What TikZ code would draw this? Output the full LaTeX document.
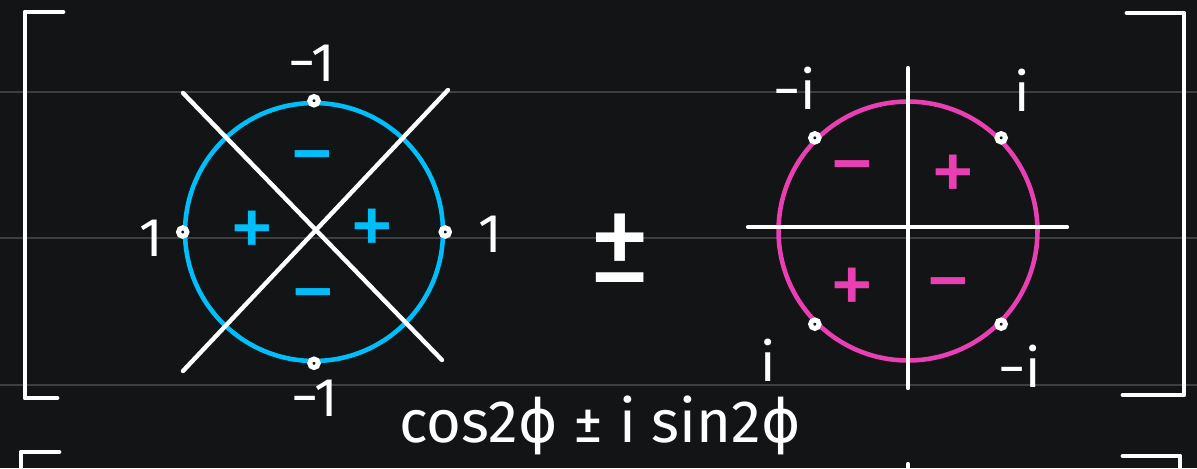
\documentclass[tikz,border=0pt]{standalone}
\usepackage{fontspec}
\setmainfont{Fira Sans}
\newfontfamily\phifont{DejaVu Sans}
\definecolor{board}{RGB}{19,20,22}
\definecolor{ruled}{RGB}{62,62,64}
\definecolor{skyblue}{RGB}{0,190,250}
\definecolor{rosepink}{RGB}{232,64,178}

\begin{document}
\begin{tikzpicture}[x=0.02cm, y=-0.02cm,
        ink/.style={white, line width=2.5pt, line cap=round, line join=round},
        brack/.style={ink, line width=2.8pt},
        rule/.style={draw=ruled, line width=1.2pt},
        ring/.style={circle, line width=2.6pt, inner sep=0pt},
        pt/.style={circle, draw=white, fill=board, line width=2.8pt, minimum size=0.17cm, inner sep=0pt},
        lbl/.style={text=white, font=\fontsize{31}{31}\selectfont},
        sgn/.style={font=\fontsize{52}{52}\selectfont}]

    % board and ruled lines
    \path[use as bounding box, clip] (0,0) rectangle (1197,468);
    \fill[board] (0,0) rectangle (1197,468);
    \foreach \y in {92,238,385} {
            \draw[rule] (0,\y) -- (1197,\y);
        }

    % brackets
    \draw[brack] (63,12) -- (25,12) -- (25,398) -- (57,398);
    \draw[brack] (1127,13) -- (1184,13) -- (1184,395) -- (1123,395);
    \draw[brack] (59,452) -- (21,452) -- (21,480);
    \draw[brack] (1123,456) -- (1180,456) -- (1180,480);
    \draw[ink] (908,464) -- (908,480);

    % blue circle with diagonal cross
    \node[ring, draw=skyblue, minimum size=5.16cm] (bc) at (314,232) {};
    \coordinate (bx1) at (183,93);
    \coordinate (bx2) at (442,360);
    \coordinate (bx3) at (183,371);
    \coordinate (bx4) at (448,90);
    \draw[ink] (bx1) -- (bx2);
    \draw[ink] (bx3) -- (bx4);

    % pink circle with axes
    \node[ring, draw=rosepink, minimum size=5.18cm] (pc) at (908,231) {};
    \coordinate (py1) at (908,68);
    \coordinate (py2) at (908,388);
    \coordinate (px1) at (748,227);
    \coordinate (px2) at (1067,227);
    \draw[ink] (py1) -- (py2);
    \draw[ink] (px1) -- (px2);

    % points on the circles
    \node[pt] (btop) at (bc.north) {};
    \node[pt] (bleft) at (bc.west) {};
    \node[pt] (bright) at (bc.east) {};
    \node[pt] (bbot) at (bc.south) {};
    \foreach \a in {45,135,225,315} {
            \node[pt] (p\a) at (pc.\a) {};
        }

    % labels of the points
    \node[lbl] (ltop) at (312,63) {−1};
    \node[lbl] (lleft) at (151,238) {1};
    \node[lbl] (lright) at (490,234) {1};
    \node[lbl] (lbot) at (315,398) {−1};
    \node[lbl] (l135) at (795,88) {−i};
    \node[lbl] (l45) at (1022,90) {i};
    \node[lbl] (l225) at (768,360) {i};
    \node[lbl] (l315) at (1020,366) {−i};

    % signs in the quadrants
    \foreach \s/\x/\y [count=\k] in {−/312/168, +/252/235, +/372/233, −/313/306} {
            \node[sgn, text=skyblue] (bs\k) at (\x,\y) {\s};
        }
    \foreach \s/\x/\y [count=\k] in {−/852/178, +/953/179, +/852/292, −/948/295} {
            \node[sgn, text=rosepink] (ps\k) at (\x,\y) {\s};
        }

    \node[text=white, font=\fontsize{72}{72}\selectfont] (pm) at (620,248) {±};
    \node[lbl, font=\fontsize{34}{34}\selectfont] (euler) at (600,425) {cos2{\phifont ϕ} ± i sin2{\phifont ϕ}};
\end{tikzpicture}
\end{document}
